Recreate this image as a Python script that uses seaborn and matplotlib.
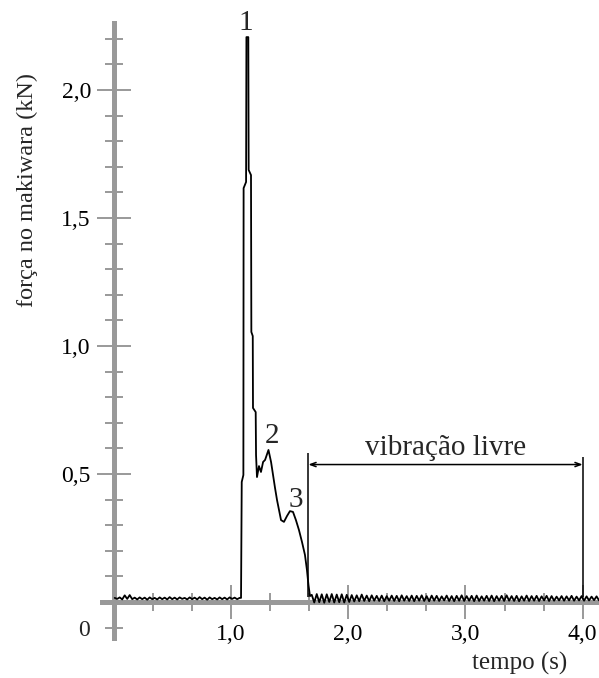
import numpy as np
import pandas as pd
import seaborn as sns
import matplotlib.pyplot as plt

dt = 0.0213  # sample step of the baseline parts (s)

t_pre_start = 0.01
f_pre = [0.016, 0.012, 0.018, 0.010, 0.026, 0.012, 0.027, 0.011, 0.017, 0.010,
         0.018, 0.011, 0.017, 0.009, 0.018, 0.011, 0.016, 0.010, 0.018, 0.011,
         0.017, 0.010, 0.019, 0.011, 0.017, 0.010, 0.018, 0.012, 0.016, 0.010,
         0.018, 0.011, 0.017, 0.010, 0.019, 0.011, 0.017, 0.009, 0.018, 0.011,
         0.016, 0.010, 0.018, 0.011, 0.017, 0.010, 0.018, 0.012, 0.017, 0.011,
         0.016]

# the impact itself
t_pulse = [1.087, 1.093, 1.107, 1.109, 1.130, 1.133, 1.149, 1.152, 1.172, 1.175,
           1.187, 1.189, 1.212, 1.215, 1.223, 1.240, 1.257, 1.275, 1.292, 1.321,
           1.343, 1.360, 1.377, 1.394, 1.411, 1.428, 1.453, 1.479, 1.504, 1.530,
           1.555, 1.581, 1.607, 1.632, 1.649, 1.662, 1.675]
f_pulse = [0.016, 0.469, 0.496, 1.617, 1.641, 2.207, 2.207, 1.688, 1.668, 1.055,
           1.039, 0.758, 0.742, 0.574, 0.488, 0.531, 0.508, 0.547, 0.555, 0.594,
           0.547, 0.496, 0.445, 0.398, 0.359, 0.320, 0.313, 0.336, 0.355, 0.352,
           0.320, 0.281, 0.234, 0.184, 0.125, 0.066, 0.023]

# free vibration after the impact
t_free_start = 1.69
f_free = [0.028, -0.002, 0.031, -0.001, 0.030, -0.003, 0.030, 0.000, 0.031, -0.002,
          0.029, -0.001, 0.030, -0.002, 0.028, 0.000, 0.027, 0.002, 0.026, 0.003,
          0.029, 0.004, 0.025, 0.003, 0.026, 0.005, 0.024, 0.004, 0.025, 0.003,
          0.023, 0.005, 0.025, 0.004, 0.024, 0.003, 0.026, 0.005, 0.023, 0.004,
          0.025, 0.003, 0.024, 0.005, 0.026, 0.004, 0.023, 0.003, 0.025, 0.005,
          0.024, 0.004, 0.022, 0.006, 0.025, 0.004, 0.023, 0.003, 0.024, 0.005,
          0.026, 0.004, 0.023, 0.005, 0.024, 0.003, 0.025, 0.004, 0.022, 0.005,
          0.024, 0.004, 0.025, 0.003, 0.023, 0.005, 0.024, 0.004, 0.026, 0.005,
          0.023, 0.004, 0.024, 0.003, 0.022, 0.005, 0.025, 0.004, 0.023, 0.005,
          0.024, 0.004, 0.022, 0.006, 0.024, 0.004, 0.023, 0.005, 0.021, 0.006,
          0.023, 0.005, 0.022, 0.006, 0.024, 0.005, 0.021, 0.006, 0.023, 0.005,
          0.022, 0.006, 0.021, 0.007, 0.022, 0.006]

x_major = [1, 2, 3, 4]
x_labels = ['1,0', '2,0', '3,0', '4,0']
y_major = [0.5, 1.0, 1.5, 2.0]
y_labels = ['0,5', '1,0', '1,5', '2,0']

peak_labels = ['1', '2', '3']
peak_t = [1.13, 1.347, 1.556]
peak_f = [2.234, 0.621, 0.371]

free_start = 1.661
free_end = 4.0
free_level = 0.537

t_pre = t_pre_start + dt * np.arange(len(f_pre))
t_free = t_free_start + dt * np.arange(len(f_free))
df = pd.DataFrame({
    'tempo': np.concatenate([t_pre, t_pulse, t_free]),
    'forca': np.concatenate([f_pre, f_pulse, f_free]),
})

sns.set_style('white')
plt.rcParams['font.family'] = ['Liberation Serif', 'DejaVu Serif']

gray = '#999999'
fig = plt.figure(figsize=(5.99, 6.78), dpi=100)
ax = fig.add_axes([0, 0, 1, 1])

sns.lineplot(data=df, x='tempo', y='forca', sort=False, estimator=None,
             color='black', lw=1.3, ax=ax, zorder=3)

ax.set_xlim(-0.968, 4.139)
ax.set_ylim(-0.297, 2.352)

# axes crossing at the origin
ax.spines['top'].set_visible(False)
ax.spines['right'].set_visible(False)
ax.spines['left'].set_position(('data', 0))
ax.spines['bottom'].set_position(('data', 0))
ax.spines['left'].set_bounds(-0.14, 2.262)
ax.spines['bottom'].set_bounds(-0.1, 4.139)
for s in ['left', 'bottom']:
    ax.spines[s].set_color(gray)
    ax.spines[s].set_linewidth(3.6)

ax.set_xticks(x_major)
ax.set_xticklabels(x_labels)
ax.set_xticks([k / 3 for k in range(1, 12) if k % 3], minor=True)
ax.set_yticks(y_major)
ax.set_yticklabels(y_labels)
ax.set_yticks([k / 10 for k in range(-1, 23) if k % 5], minor=True)
ax.tick_params(which='both', direction='inout', color=gray, width=1.4,
               bottom=True, left=True, labelsize=17, labelcolor='black')
ax.tick_params(which='major', length=24)
ax.tick_params(which='minor', length=12.5)
ax.tick_params(axis='y', which='major', pad=4.3)
ax.tick_params(axis='x', which='major', pad=3.6)

ax.text(-0.25, -0.113, '0', fontsize=17, ha='center', va='center')

ax.set_xlabel('tempo (s)', fontsize=18, va='baseline')
ax.xaxis.set_label_coords(520 / 599, 1 - 670 / 678)
ax.set_ylabel('força no makiwara (kN)', fontsize=17.5, va='center')
ax.yaxis.set_label_coords(27 / 599, 1 - 190 / 678)

for lab, tx, fy in zip(peak_labels, peak_t, peak_f):
    ax.text(tx, fy, lab, fontsize=21, ha='center', va='baseline')

# "vibração livre" bracket
ax.vlines(free_start, 0.02, free_level + 0.045, color='black', lw=1.1)
ax.vlines(free_end, 0.02, free_level + 0.03, color='black', lw=1.1)
ax.annotate('', xy=(free_start, free_level), xytext=(free_end, free_level),
            arrowprops=dict(arrowstyle='<->,head_length=0.4,head_width=0.15',
                            color='black', lw=1.1, shrinkA=0, shrinkB=0))
ax.text((free_start + free_end) / 2, free_level + 0.037, 'vibração livre',
        fontsize=21, ha='center', va='baseline')

fig.savefig('out.png', dpi=100, facecolor='white')
